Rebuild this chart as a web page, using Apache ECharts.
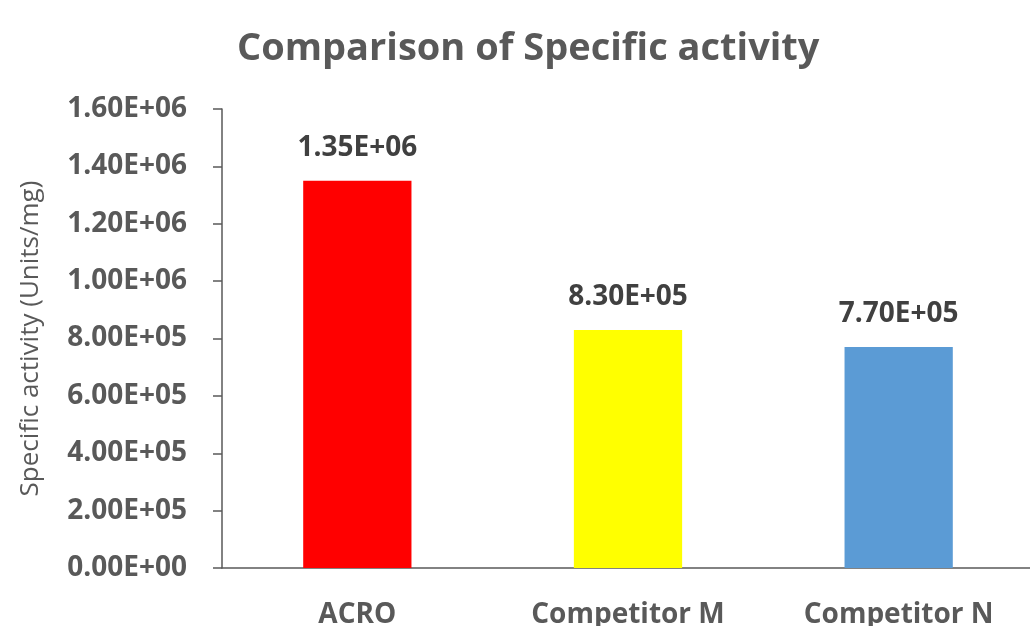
<!DOCTYPE html>
<html>
<head>
<meta charset="utf-8">
<script src="https://cdn.jsdelivr.net/npm/echarts@6/dist/echarts.min.js"></script>
<style>
  html, body { margin: 0; padding: 0; background: #ffffff; }
  #chart { width: 1030px; height: 626px; }
</style>
</head>
<body>
<div id="chart"></div>
<script>
// Specific activity per product (Units/mg)
const categories = ['ACRO', 'Competitor M', 'Competitor N'];
const activity = [1350000, 830000, 770000];
const barColors = ['#FF0000', '#FFFF00', '#5B9BD5'];
const yMin = 0;
const yMax = 1600000;
const yStep = 200000;

// Excel-style scientific notation, e.g. 1.35E+06
function sci(v) {
  const parts = Number(v).toExponential(2).split('e');
  const exp = parseInt(parts[1], 10);
  const sign = exp < 0 ? '-' : '+';
  const digits = String(Math.abs(exp)).padStart(2, '0');
  return parts[0] + 'E' + sign + digits;
}

const FONT = '"Open Sans", "DejaVu Sans", sans-serif';
const GREY = '#595959';

const chart = echarts.init(document.getElementById('chart'), null, { renderer: 'canvas' });
chart.setOption({
  backgroundColor: '#ffffff',
  animation: false,
  title: {
    text: 'Comparison of Specific activity',
    left: 232,
    top: 25,
    textStyle: { fontFamily: FONT, fontSize: 38, fontWeight: 'bold', color: GREY }
  },
  // fixed plot rectangle; the category labels are allowed to run off the bottom edge
  grid: { left: 222, top: 109, width: 812, bottom: 58, containLabel: false, outerBoundsMode: 'none' },
  xAxis: {
    type: 'category',
    data: categories,
    axisLine: { show: true, lineStyle: { color: GREY, width: 1.5 } },
    axisTick: { show: false },
    axisLabel: {
      fontFamily: FONT, fontSize: 28, fontWeight: 'bold', color: GREY, margin: 33
    }
  },
  yAxis: {
    type: 'value',
    min: yMin,
    max: yMax,
    interval: yStep,
    name: 'Specific activity (Units/mg)',
    nameLocation: 'middle',
    nameGap: 178,
    nameTextStyle: { fontFamily: FONT, fontSize: 26, color: GREY },
    splitLine: { show: false },
    axisLine: { show: true, lineStyle: { color: GREY, width: 1.5 } },
    axisTick: { show: true, length: 9, lineStyle: { color: GREY, width: 1.5 } },
    axisLabel: {
      fontFamily: FONT, fontSize: 28, fontWeight: 'bold', color: GREY, margin: 35,
      formatter: sci
    }
  },
  series: [{
    type: 'bar',
    barWidth: '40%',
    data: activity.map((v, i) => ({ value: v, itemStyle: { color: barColors[i] } })),
    label: {
      show: true,
      position: 'top',
      distance: 19,
      fontFamily: FONT, fontSize: 28, fontWeight: 'bold', color: '#404040',
      formatter: p => sci(p.value)
    }
  }]
});
</script>
</body>
</html>
